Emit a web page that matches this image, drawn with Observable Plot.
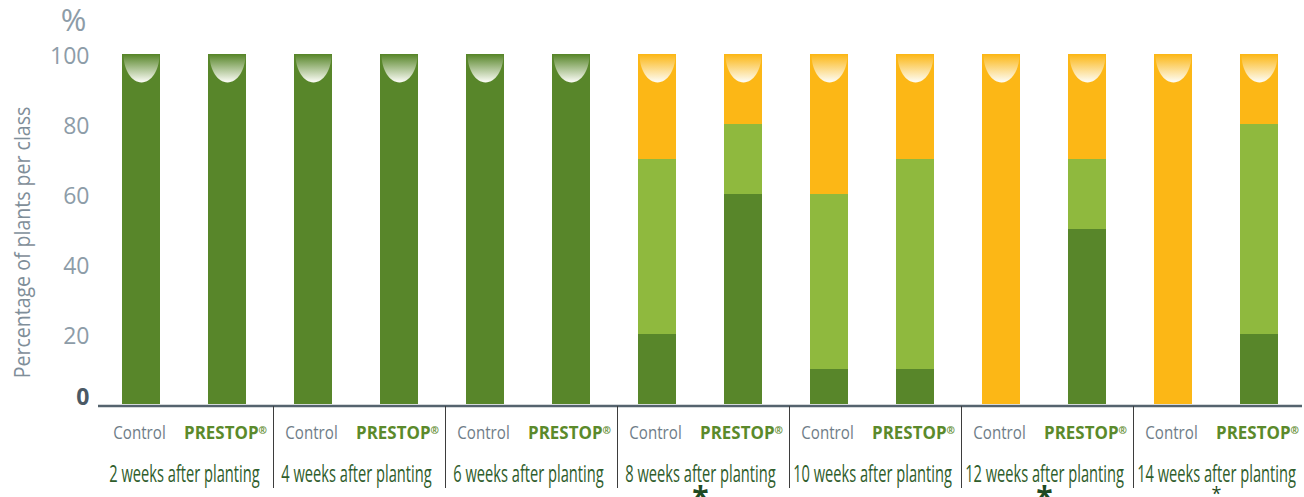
<!DOCTYPE html>
<html>
<head>
<meta charset="utf-8">
<script src="https://cdn.jsdelivr.net/npm/d3@7"></script>
<script src="https://cdn.jsdelivr.net/npm/@observablehq/plot@0.6"></script>
<style>
  body { margin: 0; background: #fff; }
  #chart svg { display: block; }
</style>
</head>
<body>
<div id="chart"></div>
<script>
// ---- data ----
const weeks = [
  "2 weeks after planting", "4 weeks after planting", "6 weeks after planting",
  "8 weeks after planting", "10 weeks after planting", "12 weeks after planting",
  "14 weeks after planting"
];
const treatments = ["Control", "PRESTOP®"];
const classes = ["Class 1", "Class 2", "Class 3"];
const classColors = ["#58862a", "#8fb93e", "#fcb716"];
// percentage of plants per class, per week: [class 1, class 2, class 3]
const controlValues = [[100, 0, 0], [100, 0, 0], [100, 0, 0], [20, 50, 30], [10, 50, 40], [0, 0, 100], [0, 0, 100]];
const prestopValues = [[100, 0, 0], [100, 0, 0], [100, 0, 0], [60, 20, 20], [10, 60, 30], [50, 20, 30], [20, 60, 20]];
const yTicks = [20, 40, 60, 80, 100];
const zeroTick = [0];
const significant = ["8 weeks after planting", "12 weeks after planting"];
const weaklySignificant = ["14 weeks after planting"];

// ---- tables built from the arrays ----
const rows = [];
const tops = [];
weeks.forEach((week, i) => {
  [[treatments[0], controlValues[i]], [treatments[1], prestopValues[i]]].forEach(([treatment, vals]) => {
    vals.forEach((v, k) => rows.push({week, treatment, cls: classes[k], value: v}));
    let top = 0;
    vals.forEach((v, k) => { if (v > 0) top = k; });
    tops.push({week, treatment, total: d3.sum(vals), top});
  });
});
const cells = weeks.flatMap(week => treatments.map(treatment => ({week, treatment})));

// half-ellipse "dome" symbol, flat side on top
const dome = {
  draw(context, size) {
    const r = Math.sqrt(size / Math.PI);
    const w = r, h = r * 1.55, k = 0.5523;
    context.moveTo(-w, 0);
    context.lineTo(w, 0);
    context.bezierCurveTo(w, h * k, w * k, h, 0, h);
    context.bezierCurveTo(-w * k, h, -w, h * k, -w, 0);
    context.closePath();
  }
};

const separators = (index, scales, values, dims) => {
  const g = d3.create("svg:g").attr("aria-label", "separators");
  const fx = scales.fx || d3.scaleBand().domain(weeks).range([dims.marginLeft, dims.width - dims.marginRight]);
  const y1 = dims.height - dims.marginBottom + 2, y2 = dims.height - 9;
  weeks.slice(1).forEach(w => {
    const x = Math.round(fx(w)) + 0.5;
    g.append("line").attr("x1", x).attr("x2", x).attr("y1", y1).attr("y2", y2)
      .attr("stroke", "#3d3d3d").attr("stroke-width", 1);
  });
  return g.node();
};

const sup = {facet: "super"};
const firstFacet = () => weeks[0];
const tag = name => () => name;

const chart = Plot.plot({
  width: 1304,
  height: 497,
  marginLeft: 95,
  marginRight: 0,
  marginTop: 54,
  marginBottom: 93,
  fx: {domain: weeks, padding: 0, axis: null},
  x: {domain: treatments, paddingInner: 0.56, paddingOuter: 0.28, axis: null},
  y: {domain: [0, 100], axis: null},
  color: {domain: classes, range: classColors},
  style: {fontFamily: "'Open Sans', 'DejaVu Sans', sans-serif", background: "#fff"},
  marks: [
    Plot.barY(rows, {fx: "week", x: "treatment", y: "value", fill: "cls"}),
    ...classes.map((c, k) => Plot.dot(tops.filter(d => d.top === k), {
      fx: "week", x: "treatment", y: "total", symbol: dome, r: 18,
      fill: `url(#dome${k})`, stroke: null
    })),
    Plot.ruleY([0], {stroke: "#55636e", strokeWidth: 2.5, dy: 1.5}),
    Plot.text(yTicks, {fx: firstFacet, y: d => d, text: d => String(d), frameAnchor: "left", textAnchor: "end",
      lineAnchor: "middle", dx: -9, dy: 2, fontSize: 23, fill: "#8d9ca8"}),
    Plot.text(zeroTick, {fx: firstFacet, y: d => d, text: d => String(d), frameAnchor: "left", textAnchor: "end",
      lineAnchor: "middle", dx: -9, dy: -7, fontSize: 23, fontWeight: "bold", fill: "#4b5965"}),
    Plot.text(["%"], {...sup, frameAnchor: "top-left", textAnchor: "end", lineAnchor: "middle", dx: -12, dy: -33,
      fontSize: 31, fill: "#8d9ca8"}),
    Plot.text(["Percentage of plants per class"], {...sup, frameAnchor: "left", textAnchor: "middle",
      lineAnchor: "middle", rotate: -90, dx: -75, dy: 13,
      fontSize: 21, fill: "#7f8e99", ariaLabel: tag("y-title")}),
    Plot.text(cells.filter(d => d.treatment === treatments[0]), {fx: "week", x: "treatment", text: "treatment",
      frameAnchor: "bottom", lineAnchor: "middle", dx: -2, dy: 29, fontSize: 18, fill: "#6f7d88",
      ariaLabel: tag("control-label")}),
    Plot.text(cells.filter(d => d.treatment === treatments[1]), {fx: "week", x: "treatment", text: "treatment",
      frameAnchor: "bottom", lineAnchor: "middle", dx: -2, dy: 29, fontSize: 18, fontWeight: "bold", fill: "#5b8a2b",
      ariaLabel: tag("prestop-label")}),
    Plot.text(weeks, {fx: d => d, text: d => d, frameAnchor: "bottom", lineAnchor: "middle", dy: 70, fontSize: 24,
      fill: "#2f5d2b", ariaLabel: tag("group-label")}),
    Plot.text(significant, {fx: d => d, text: () => "*", frameAnchor: "bottom", lineAnchor: "middle", dy: 94,
      fontSize: 30, fontWeight: "bold", fill: "#1f4a22"}),
    Plot.text(weaklySignificant, {fx: d => d, text: () => "*", frameAnchor: "bottom", lineAnchor: "middle", dy: 90,
      fontSize: 18, fill: "#1f4a22"}),
    separators
  ]
});

// gradients for the bar caps
const defs = d3.select(chart).insert("defs", ":first-child");
classColors.forEach((c, k) => {
  const lg = defs.append("linearGradient").attr("id", `dome${k}`)
    .attr("x1", 0).attr("y1", 0).attr("x2", 0).attr("y2", 1);
  lg.append("stop").attr("offset", "0%").attr("stop-color", c);
  lg.append("stop").attr("offset", "100%").attr("stop-color", "#fdfdf8");
});

document.getElementById("chart").appendChild(chart);

const pick = label => chart.querySelectorAll(`text[aria-label="${label}"], g[aria-label="${label}"] text`);

// registered mark after PRESTOP
pick("prestop-label").forEach(t => {
  t.textContent = "PRESTOP";
  const ts = document.createElementNS("http://www.w3.org/2000/svg", "tspan");
  ts.setAttribute("font-size", "0.6em");
  ts.setAttribute("dy", "-0.5em");
  ts.textContent = "®";
  t.appendChild(ts);
});

function condense(label, factor) {
  pick(label).forEach(t => {
    const w = t.getComputedTextLength();
    t.setAttribute("textLength", (w * factor).toFixed(1));
    t.setAttribute("lengthAdjust", "spacingAndGlyphs");
  });
}
condense("group-label", 0.61);
condense("control-label", 0.84);
condense("prestop-label", 0.94);
condense("y-title", 0.93);
</script>
</body>
</html>
